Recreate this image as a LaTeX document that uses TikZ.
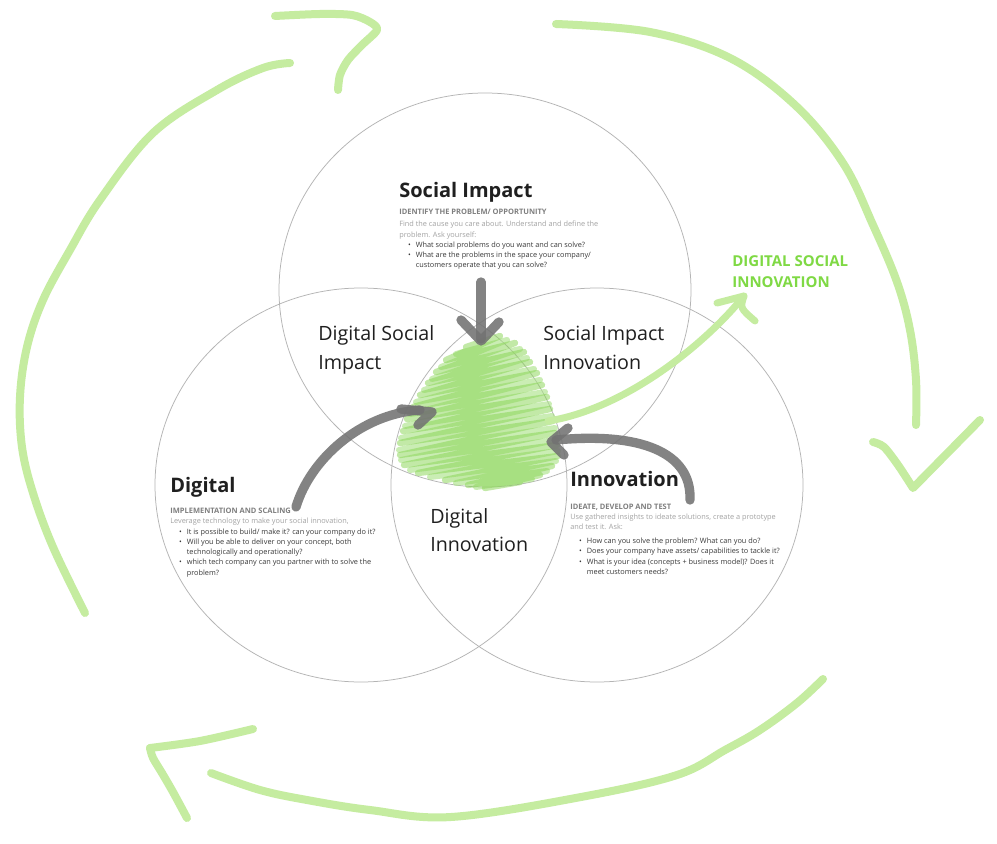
\documentclass[tikz,border=0pt]{standalone}
\usepackage{fontspec}
\setmainfont{Open Sans}
\usepackage{xcolor}
\usepackage{tikz}
\usetikzlibrary{shapes.geometric}
\definecolor{ink}{HTML}{1F1F1F}
\definecolor{subgray}{HTML}{7F7F7F}
\definecolor{bodygray}{HTML}{A3A3A3}
\definecolor{listgray}{HTML}{3A3A3A}
\definecolor{rim}{HTML}{B4B4B4}
\definecolor{leaf}{HTML}{C5ECA0}
\definecolor{sprout}{HTML}{7FD944}
\definecolor{scribA}{HTML}{86D450}
\definecolor{scribB}{HTML}{A8E283}
\definecolor{pencil}{HTML}{727272}
\newcommand{\bli}{\makebox[9.9pt][l]{\hspace*{5.2pt}•}}
\newcommand{\blc}{\hspace*{9.9pt}}
\newcommand{\subhd}[1]{{\fontsize{4.5}{6.15}\selectfont\bfseries\color{subgray}#1}}
\newcommand{\intro}[1]{{\color{bodygray}#1}}
\tikzset{venn/.style={ellipse,draw=rim,line width=0.45pt,minimum width=247.2pt,minimum height=236.4pt,inner sep=0pt}}
\tikzset{titletext/.style={anchor=base west,inner sep=0pt,text=ink,font=\fontsize{12}{14}\selectfont\bfseries}}
\tikzset{zonetext/.style={anchor=base west,inner sep=0pt,align=left,text=ink,font=\fontsize{11.8}{17}\selectfont}}
\tikzset{notetext/.style={anchor=base west,inner sep=0pt,align=left,text=listgray,font=\fontsize{4.4}{6.15}\selectfont}}
\tikzset{sweep/.style={draw=leaf,line width=4.8pt,line cap=round,line join=round}}
\tikzset{pointer/.style={draw=pencil,opacity=.88,line width=5.6pt,line cap=round,line join=round}}
\tikzset{scribble/.style={line cap=round,line join=round}}

\begin{document}
\begin{tikzpicture}[x=0.6pt,y=-0.6pt]
    \useasboundingbox (0,0) rectangle (997,844);
    \fill[white] (0,0) rectangle (997,844);

    % the three circles
    \node[venn] (social) at (485,290) {};
    \node[venn] (digital) at (361,485) {};
    \node[venn] (innov) at (597,485) {};

    % scribble in the middle
    \draw[scribble,scribB,opacity=.6,line width=3.6pt] (456,354) -- (507,340) -- (441,367) -- (520,349) -- (432,379) -- (527,358) -- (424,390) -- (534,369) -- (416,402) -- (540,380) -- (410,414) -- (545,392) -- (405,426) -- (549,404) -- (401,438) -- (552,416) -- (399,450) -- (555,428) -- (401,460) -- (556,440) -- (410,470) -- (558,451) -- (430,477) -- (556,461) -- (456,483) -- (547,471) -- (476,487) -- (532,479);
    \draw[scribble,scribA,opacity=.5,line width=3.8pt] (466,347) -- (500,336) -- (446,360) -- (515,343) -- (436,372) -- (524,352) -- (428,383) -- (530,362) -- (420,395) -- (537,373) -- (413,407) -- (542,385) -- (407,419) -- (547,397) -- (403,431) -- (550,409) -- (400,443) -- (553,421) -- (400,455) -- (555,433) -- (404,465) -- (557,445) -- (418,473) -- (558,456) -- (445,480) -- (552,466) -- (468,485) -- (540,475) -- (485,488) -- (520,482);

    % outer loop
    \draw[sweep] plot[smooth,tension=.6] coordinates {(85,613) (53,547) (33,493) (22,447) (20,397) (27,347) (43,300) (70,250) (100,200) (153,133) (217,90) (263,68) (290,63)};
    \draw[sweep] plot[smooth,tension=.5] coordinates {(275,16) (320,14) (352,15) (370,22) (377,30) (362,45) (348,60) (340,75) (338,90)};
    \draw[sweep] plot[smooth,tension=.6] coordinates {(556,24) (650,32) (730,58) (795,105) (843,163) (873,225) (897,282) (910,330) (916,380) (916,425)};
    \draw[sweep] plot[smooth,tension=.5] coordinates {(873,442) (884,447) (898,465) (913,488)} -- (980,420);
    \draw[sweep] plot[smooth,tension=.6] coordinates {(823,679) (797,703) (760,730) (725,750) (677,775) (581,797) (451,817) (370,810) (307,800) (260,790) (211,773)};
    \draw[sweep] plot[smooth,tension=.5] coordinates {(253,729) (200,741) (150,748)};
    \draw[sweep] plot[smooth,tension=.5] coordinates {(150,748) (153,758) (162,773) (173,792) (187,818)};

    % texts
    \node[titletext] (si) at (399,197.7) {Social Impact};
    \node[notetext] (sinotes) at (399,268) {\subhd{IDENTIFY THE PROBLEM/ OPPORTUNITY}\\[1.2pt]
        \intro{Find the cause you care about. Understand and define the}\\
        \intro{problem. Ask yourself:}\\
        \bli What social problems do you want and can solve?\\
        \bli What are the problems in the space your company/\\
        \blc customers operate that you can solve?};
    \node[titletext] (dg) at (170,492.7) {Digital};
    \node[notetext] (dgnotes) at (170,575) {\subhd{IMPLEMENTATION AND SCALING}\\
        \intro{Leverage technology to make your social innovation,}\\
        \bli It is possible to build/ make it? can your company do it?\\
        \bli Will you be able to deliver on your concept, both\\
        \blc technologically and operationally?\\
        \bli which tech company can you partner with to solve the\\
        \blc problem?};
    \node[titletext] (in) at (570,486.7) {Innovation};
    \node[notetext] (innotes) at (570,574.3) {\subhd{IDEATE, DEVELOP AND TEST}\\
        \intro{Use gathered insights to ideate solutions, create a prototype}\\
        \intro{and test it. Ask:}\\[2.2pt]
        \bli How can you solve the problem? What can you do?\\
        \bli Does your company have assets/ capabilities to tackle it?\\
        \bli What is your idea (concepts + business model)? Does it\\
        \blc meet customers needs?};
    \node[zonetext] (dsimp) at (318,369.3) {Digital Social\\Impact};
    \node[zonetext] (siinn) at (543,369.3) {Social Impact\\Innovation};
    \node[zonetext] (dginn) at (430,551.5) {Digital\\Innovation};
    \node[anchor=base west,inner sep=0pt,align=left,text=sprout,font=\fontsize{9}{12.5}\selectfont\bfseries] (dsi) at (732,287.3) {DIGITAL SOCIAL\\INNOVATION};

    % arrows into the middle
    \coordinate (si-out) at (481,282);
    \coordinate (si-in) at (481,339);
    \coordinate (dg-out) at (296,507);
    \coordinate (dg-in) at (420,410);
    \coordinate (in-out) at (690,500);
    \coordinate (in-in) at (556,440);
    \coordinate (core-out) at (548,421);
    \coordinate (dsi-tip) at (744,296);

    \draw[pointer] (si-out) -- (si-in);
    \draw[pointer] (461,320) -- (481,341) -- (499,322);
    \draw[pointer] (dg-out) .. controls (310,460) and (360,414) .. (dg-in);
    \draw[pointer] (401,409) -- (432,412) -- (418,425);
    \draw[pointer] (in-out) .. controls (692,452) and (640,432) .. (in-in);
    \draw[pointer] (568,428) -- (551,442) -- (564,455);

    \draw[sweep,line width=4.2pt] (core-out) .. controls (620,410) and (700,350) .. (dsi-tip);
    \draw[sweep,line width=4.2pt] (717,303) -- (dsi-tip) .. controls (740,308) .. (755,321);
\end{tikzpicture}
\end{document}
